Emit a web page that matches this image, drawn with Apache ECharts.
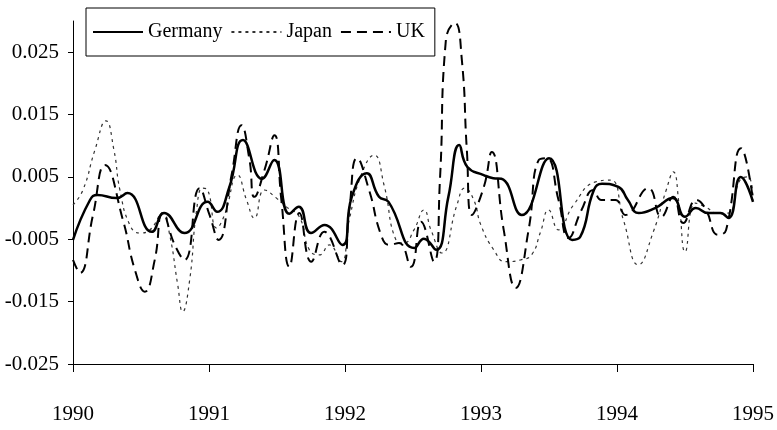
<!DOCTYPE html>
<html>
<head>
<meta charset="utf-8">
<script src="https://cdn.jsdelivr.net/npm/echarts@6/dist/echarts.min.js"></script>
<style>html,body{margin:0;padding:0;background:#fff;}#chart{width:777px;height:430px;}</style>
</head>
<body>
<div id="chart"></div>
<script>
// ---- data ----
var seriesNames = ['Germany', 'Japan', 'UK'];
var xTickLabels = ['1990', '1991', '1992', '1993', '1994', '1995'];
var yTickValues = [-0.025, -0.015, -0.005, 0.005, 0.015, 0.025];
var yTickLabels = ['-0.025', '-0.015', '-0.005', '0.005', '0.015', '0.025'];

var germanyX = [1990.000, 1990.125, 1990.180, 1990.320, 1990.400, 1990.580, 1990.670, 1990.820, 1990.990, 1991.060, 1991.150, 1991.250, 1991.390, 1991.480, 1991.590, 1991.660, 1991.750, 1991.850, 1991.980, 1992.050, 1992.160, 1992.250, 1992.320, 1992.510, 1992.580, 1992.670, 1992.760, 1992.840, 1992.900, 1993.020, 1993.090, 1993.150, 1993.300, 1993.500, 1993.670, 1993.730, 1993.830, 1993.890, 1994.010, 1994.080, 1994.160, 1994.280, 1994.410, 1994.500, 1994.580, 1994.670, 1994.760, 1994.820, 1994.910, 1995.000];
var germanyY = [-0.0051, 0.0013, 0.0021, 0.0016, 0.0024, -0.0038, -0.0008, -0.0040, 0.0010, -0.0006, 0.0034, 0.0109, 0.0047, 0.0077, -0.0009, 0.0002, -0.0040, -0.0027, -0.0059, 0.0018, 0.0056, 0.0018, 0.0010, -0.0064, -0.0049, -0.0067, 0.0018, 0.0101, 0.0066, 0.0053, 0.0048, 0.0047, -0.0011, 0.0080, -0.0051, -0.0046, 0.0029, 0.0039, 0.0034, 0.0013, -0.0008, 0.0000, 0.0016, -0.0014, 0.0000, -0.0008, -0.0008, -0.0016, 0.0050, 0.0010];

var japanX = [1990.000, 1990.073, 1990.161, 1990.242, 1990.301, 1990.345, 1990.418, 1990.491, 1990.565, 1990.660, 1990.711, 1990.770, 1990.806, 1990.858, 1990.909, 1990.953, 1990.990, 1991.056, 1991.114, 1991.210, 1991.276, 1991.334, 1991.408, 1991.496, 1991.569, 1991.664, 1991.738, 1991.811, 1991.884, 1991.972, 1992.031, 1992.119, 1992.214, 1992.287, 1992.375, 1992.434, 1992.507, 1992.581, 1992.632, 1992.713, 1992.823, 1992.881, 1992.947, 1992.999, 1993.094, 1993.182, 1993.292, 1993.372, 1993.438, 1993.497, 1993.570, 1993.680, 1993.842, 1993.952, 1994.047, 1994.157, 1994.267, 1994.362, 1994.414, 1994.457, 1994.501, 1994.575, 1994.648, 1994.743, 1994.817, 1994.905, 1994.963, 1995.000];
var japanY = [0.0005, 0.0029, 0.0093, 0.0140, 0.0093, 0.0029, -0.0027, -0.0040, -0.0035, -0.0008, -0.0043, -0.0123, -0.0166, -0.0115, -0.0003, 0.0032, 0.0029, -0.0032, -0.0011, 0.0053, 0.0013, -0.0016, 0.0029, 0.0016, 0.0002, -0.0014, -0.0067, -0.0075, -0.0059, -0.0086, -0.0019, 0.0053, 0.0085, 0.0037, -0.0051, -0.0056, -0.0035, -0.0003, -0.0035, -0.0072, 0.0005, 0.0032, 0.0013, -0.0027, -0.0067, -0.0086, -0.0083, -0.0075, -0.0038, -0.0003, -0.0035, 0.0005, 0.0042, 0.0045, -0.0019, -0.0091, -0.0038, 0.0029, 0.0058, 0.0005, -0.0070, 0.0008, 0.0002, -0.0008, -0.0008, 0.0045, 0.0050, 0.0013];

var ukX = [1990.000, 1990.051, 1990.147, 1990.235, 1990.367, 1990.455, 1990.528, 1990.601, 1990.660, 1990.748, 1990.821, 1990.931, 1991.004, 1991.070, 1991.166, 1991.239, 1991.298, 1991.334, 1991.408, 1991.481, 1991.532, 1991.591, 1991.664, 1991.752, 1991.848, 1991.979, 1992.031, 1992.089, 1992.177, 1992.265, 1992.324, 1992.397, 1992.485, 1992.559, 1992.654, 1992.698, 1992.742, 1992.808, 1992.859, 1992.896, 1992.933, 1993.021, 1993.079, 1993.167, 1993.255, 1993.350, 1993.424, 1993.482, 1993.570, 1993.644, 1993.739, 1993.827, 1993.886, 1993.988, 1994.062, 1994.230, 1994.326, 1994.414, 1994.487, 1994.582, 1994.648, 1994.743, 1994.802, 1994.912, 1995.000];
var ukY = [-0.0083, -0.0104, -0.0011, 0.0069, -0.0019, -0.0099, -0.0134, -0.0083, -0.0008, -0.0059, -0.0083, 0.0032, -0.0011, -0.0051, 0.0053, 0.0133, 0.0077, 0.0018, 0.0061, 0.0117, 0.0013, -0.0094, -0.0008, -0.0086, -0.0038, -0.0091, -0.0003, 0.0080, 0.0029, -0.0043, -0.0059, -0.0056, -0.0094, -0.0022, -0.0086, 0.0045, 0.0270, 0.0297, 0.0238, 0.0093, -0.0011, 0.0034, 0.0090, -0.0035, -0.0128, -0.0035, 0.0077, 0.0080, 0.0013, -0.0048, -0.0003, 0.0029, 0.0013, 0.0013, -0.0011, 0.0032, -0.0014, 0.0018, -0.0024, 0.0013, 0.0000, -0.0043, -0.0035, 0.0096, 0.0013];

function pairs(xs, ys) { return xs.map(function (x, i) { return [x, ys[i]]; }); }

var FONT = '"Liberation Serif", "Times New Roman", serif';
var chart = echarts.init(document.getElementById('chart'), null, { renderer: 'canvas' });
chart.setOption({
  backgroundColor: '#ffffff',
  animation: false,
  grid: { left: 73, right: 22, top: 21, bottom: 66, containLabel: false },
  legend: {
    left: 86, top: 8,
    padding: [14, 10, 14, 6],
    borderColor: '#000', borderWidth: 1,
    backgroundColor: '#fff',
    itemWidth: 50, itemHeight: 14, itemGap: 8,
    itemStyle: { opacity: 0 },
    textStyle: { fontFamily: FONT, fontSize: 20, color: '#000' },
    data: seriesNames
  },
  xAxis: {
    type: 'value', min: 1990, max: 1995, interval: 1,
    axisLine: { onZero: false, lineStyle: { color: '#000', width: 1 } },
    axisTick: { show: true, length: 8, inside: false, lineStyle: { color: '#000' } },
    splitLine: { show: false },
    axisLabel: {
      margin: 40, color: '#000', fontFamily: FONT, fontSize: 21,
      formatter: function (v) { var i = Math.round(v - 1990); return xTickLabels[i] || ''; }
    }
  },
  yAxis: {
    type: 'value', min: -0.025, max: 0.03,
    axisLine: { show: true, onZero: false, lineStyle: { color: '#000', width: 1 } },
    axisTick: { show: true, length: 5, customValues: yTickValues, lineStyle: { color: '#000' } },
    splitLine: { show: false },
    axisLabel: {
      margin: 14, color: '#000', fontFamily: FONT, fontSize: 21,
      customValues: yTickValues,
      formatter: function (v) {
        for (var i = 0; i < yTickValues.length; i++) { if (Math.abs(yTickValues[i] - v) < 1e-9) return yTickLabels[i]; }
        return '';
      }
    }
  },
  series: [
    { name: seriesNames[0], type: 'line', data: pairs(germanyX, germanyY), smooth: 0.5, symbol: 'none', z: 5,
      lineStyle: { color: '#000', width: 2.5, type: 'solid' }, itemStyle: { color: '#000' } },
    { name: seriesNames[1], type: 'line', data: pairs(japanX, japanY), smooth: 0.5, symbol: 'none', z: 3,
      lineStyle: { color: '#333', width: 1.2, type: [3, 4] }, itemStyle: { color: '#333' } },
    { name: seriesNames[2], type: 'line', data: pairs(ukX, ukY), smooth: 0.5, symbol: 'none', z: 4,
      lineStyle: { color: '#000', width: 2, type: [10, 6] }, itemStyle: { color: '#000' } }
  ]
});
</script>
</body>
</html>
